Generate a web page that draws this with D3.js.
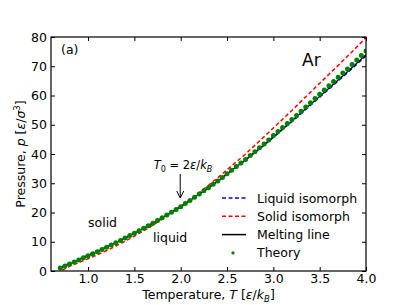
<!DOCTYPE html>
<html>
<head>
<meta charset="utf-8">
<script src="https://cdn.jsdelivr.net/npm/d3@7"></script>
<style>
  body { margin: 0; background: #fff; }
  svg text { font-family: "DejaVu Sans", sans-serif; }
</style>
</head>
<body>
<svg id="chart" width="407" height="305"></svg>
<script>
// melting line, read at T = 0.7 ... 4.0 (step 0.1)
const lineT = [0.7, 0.8, 0.9, 1.0, 1.1, 1.2, 1.3, 1.4, 1.5, 1.6, 1.7, 1.8, 1.9, 2.0, 2.1, 2.2, 2.3,
  2.4, 2.5, 2.6, 2.7, 2.8, 2.9, 3.0, 3.1, 3.2, 3.3, 3.4, 3.5, 3.6, 3.7, 3.8, 3.9, 4.0];
const meltingP = [1.0, 2.4, 3.8, 5.2, 6.6, 8.1, 9.65, 11.25, 12.9, 14.6, 16.35, 18.2, 20.1, 22.0, 24.1,
  26.3, 28.5, 30.8, 33.2, 35.6, 38.0, 40.6, 43.2, 45.9, 48.6, 51.3, 54.1, 56.9, 59.7, 62.5, 65.3,
  68.1, 71.0, 74.0];
const liquidP = [1.2, 2.6, 4.0, 5.4, 6.8, 8.25, 9.75, 11.3, 12.95, 14.6, 16.35, 18.2, 20.1, 22.0, 24.1,
  26.25, 28.45, 30.7, 33.1, 35.5, 37.9, 40.45, 43.05, 45.7, 48.4, 51.05, 53.8, 56.6, 59.4, 62.2, 65.0,
  67.8, 70.65, 73.6];
// solid isomorph starts slightly later
const solidT = [0.72, 0.8, 0.9, 1.0, 1.1, 1.2, 1.3, 1.4, 1.5, 1.6, 1.7, 1.8, 1.9, 2.0, 2.1, 2.2, 2.3,
  2.4, 2.5, 2.6, 2.7, 2.8, 2.9, 3.0, 3.1, 3.2, 3.3, 3.4, 3.5, 3.6, 3.7, 3.8, 3.9, 4.0];
const solidP = [0.3, 1.6, 2.9, 4.2, 5.55, 7.0, 8.55, 10.2, 11.9, 13.75, 15.65, 17.7, 19.85, 22.0, 24.35,
  26.8, 29.3, 31.9, 34.6, 37.3, 40.0, 42.95, 45.9, 48.9, 51.9, 54.9, 58.0, 61.1, 64.2, 67.25, 70.3,
  73.4, 76.55, 79.8];
// theory points, T = 0.70 ... 4.00 (step 0.05)
const theoryT = [0.70, 0.75, 0.80, 0.85, 0.90, 0.95, 1.00, 1.05, 1.10, 1.15, 1.20, 1.25, 1.30, 1.35,
  1.40, 1.45, 1.50, 1.55, 1.60, 1.65, 1.70, 1.75, 1.80, 1.85, 1.90, 1.95, 2.00, 2.05, 2.10, 2.15,
  2.20, 2.25, 2.30, 2.35, 2.40, 2.45, 2.50, 2.55, 2.60, 2.65, 2.70, 2.75, 2.80, 2.85, 2.90, 2.95,
  3.00, 3.05, 3.10, 3.15, 3.20, 3.25, 3.30, 3.35, 3.40, 3.45, 3.50, 3.55, 3.60, 3.65, 3.70, 3.75,
  3.80, 3.85, 3.90, 3.95, 4.00];
const theoryP = [1.0, 1.7, 2.4, 3.1, 3.8, 4.5, 5.2, 5.9, 6.6, 7.35, 8.1, 8.9, 9.65, 10.45, 11.25, 12.1,
  12.9, 13.75, 14.6, 15.5, 16.35, 17.3, 18.2, 19.15, 20.1, 21.05, 22.0, 23.05, 24.1, 25.2, 26.3,
  27.4, 28.5, 29.65, 30.8, 32.0, 33.25, 34.45, 35.7, 36.9, 38.15, 39.45, 40.8, 42.1, 43.45, 44.8,
  46.3, 47.65, 49.05, 50.4, 51.8, 53.2, 54.65, 56.05, 57.5, 58.95, 60.4, 61.85, 63.3, 64.75, 66.2,
  67.65, 69.1, 70.6, 72.1, 73.65, 75.2];

const xTicks = [1.0, 1.5, 2.0, 2.5, 3.0, 3.5, 4.0];
const yTicks = [0, 10, 20, 30, 40, 50, 60, 70, 80];
const legendNames = ["Liquid isomorph", "Solid isomorph", "Melting line", "Theory"];

const margin = {left: 51, right: 41, top: 37, bottom: 34};
const width = 407 - margin.left - margin.right;
const height = 305 - margin.top - margin.bottom;

const svg = d3.select("#chart");
const g = svg.append("g").attr("transform", `translate(${margin.left},${margin.top})`);

const x = d3.scaleLinear().domain([0.6, 4.0]).range([0, width]);
const y = d3.scaleLinear().domain([0, 80]).range([height, 0]);

g.append("clipPath").attr("id", "clip")
  .append("rect").attr("x", 0).attr("y", 0).attr("width", width).attr("height", height);

// axes, ticks pointing inwards on all sides
function styleAxis(sel) {
  sel.select(".domain").remove();
  sel.selectAll(".tick line").attr("stroke", "#000").attr("stroke-width", 1);
  sel.selectAll(".tick text").attr("fill", "#000").style("font-size", "12.5px");
}
g.append("g").attr("transform", `translate(0,${height})`)
  .call(d3.axisBottom(x).tickValues(xTicks).tickFormat(d3.format(".1f")).tickSize(-4).tickPadding(3.5))
  .call(styleAxis);
g.append("g")
  .call(d3.axisTop(x).tickValues(xTicks).tickFormat("").tickSize(-4))
  .call(styleAxis);
g.append("g")
  .call(d3.axisLeft(y).tickValues(yTicks).tickSize(-4).tickPadding(4))
  .call(styleAxis);
g.append("g").attr("transform", `translate(${width},0)`)
  .call(d3.axisRight(y).tickValues(yTicks).tickFormat("").tickSize(-4))
  .call(styleAxis);

const line = d3.line().x(d => x(d[0])).y(d => y(d[1])).curve(d3.curveMonotoneX);
const plot = g.append("g").attr("clip-path", "url(#clip)");

plot.append("path").datum(d3.zip(lineT, liquidP)).attr("d", line)
  .attr("fill", "none").attr("stroke", "#0000ff").attr("stroke-width", 1.5).attr("stroke-dasharray", "4,2.5");
plot.append("path").datum(d3.zip(solidT, solidP)).attr("d", line)
  .attr("fill", "none").attr("stroke", "#ff0000").attr("stroke-width", 1.5).attr("stroke-dasharray", "4,2.5");
plot.append("path").datum(d3.zip(lineT, meltingP)).attr("d", line)
  .attr("fill", "none").attr("stroke", "#000").attr("stroke-width", 1.3);
plot.selectAll("circle.theory").data(d3.zip(theoryT, theoryP)).enter()
  .append("circle").attr("class", "theory")
  .attr("cx", d => x(d[0])).attr("cy", d => y(d[1])).attr("r", 2.5)
  .attr("fill", "#008000");

// frame
g.append("rect").attr("width", width).attr("height", height)
  .attr("fill", "none").attr("stroke", "#000").attr("stroke-width", 1.2);

// labels
g.append("text").attr("x", 10).attr("y", 17).style("font-size", "12.5px").text("(a)");
g.append("text").attr("x", 251).attr("y", 29).style("font-size", "17px").text("Ar");
g.append("text").attr("x", 37).attr("y", 190).style("font-size", "12.5px").text("solid");
g.append("text").attr("x", 102).attr("y", 205).style("font-size", "12.5px").text("liquid");

// T0 annotation
const t0 = g.append("text").attr("x", x(2.0) - 27).attr("y", 132).style("font-size", "11.5px");
t0.append("tspan").style("font-style", "italic").text("T");
t0.append("tspan").attr("dy", 3).style("font-size", "8px").text("0");
t0.append("tspan").attr("dy", -3).text(" = 2");
t0.append("tspan").style("font-style", "italic").text("ε");
t0.append("tspan").text("/");
t0.append("tspan").style("font-style", "italic").text("k");
t0.append("tspan").attr("dy", 3).style("font-size", "8px").style("font-style", "italic").text("B");
g.append("line").attr("x1", x(2.0) - 0.5).attr("x2", x(2.0) - 0.5).attr("y1", 137).attr("y2", 160)
  .attr("stroke", "#000").attr("stroke-width", 1);
g.append("path")
  .attr("d", `M${x(2.0) - 4},${154} L${x(2.0) - 0.5},${161} L${x(2.0) + 3},${154}`)
  .attr("fill", "none").attr("stroke", "#000").attr("stroke-width", 1);

// legend
const legend = g.append("g").attr("transform", "translate(171,161)");
legendNames.forEach((name, i) => {
  const row = legend.append("g").attr("transform", `translate(0,${i * 18.3})`);
  if (i < 3) {
    row.append("line").attr("x1", 0).attr("x2", 24).attr("y1", 0).attr("y2", 0)
      .attr("stroke", ["#0000ff", "#ff0000", "#000"][i]).attr("stroke-width", 1.5)
      .attr("stroke-dasharray", i < 2 ? "4,2.5" : null);
  } else {
    row.append("circle").attr("cx", 11).attr("cy", 0).attr("r", 1.6).attr("fill", "#008000");
  }
  row.append("text").attr("x", 35).attr("y", 4.5).style("font-size", "12.5px").text(name);
});

// axis titles
const xl = svg.append("text").attr("x", margin.left + width / 2).attr("y", 299)
  .attr("text-anchor", "middle").style("font-size", "12.5px");
xl.append("tspan").text("Temperature, ");
xl.append("tspan").style("font-style", "italic").text("T");
xl.append("tspan").text(" [");
xl.append("tspan").style("font-style", "italic").text("ε");
xl.append("tspan").text("/");
xl.append("tspan").style("font-style", "italic").text("k");
xl.append("tspan").attr("dy", 3).style("font-size", "8.5px").style("font-style", "italic").text("B");
xl.append("tspan").attr("dy", -3).text("]");

const yl = svg.append("text")
  .attr("transform", `translate(25,${margin.top + height / 2}) rotate(-90)`)
  .attr("text-anchor", "middle").style("font-size", "12.5px");
yl.append("tspan").text("Pressure, ");
yl.append("tspan").style("font-style", "italic").text("p");
yl.append("tspan").text(" [");
yl.append("tspan").style("font-style", "italic").text("ε");
yl.append("tspan").text("/");
yl.append("tspan").style("font-style", "italic").text("σ");
yl.append("tspan").attr("dy", -5).style("font-size", "8.5px").text("3");
yl.append("tspan").attr("dy", 5).text("]");
</script>
</body>
</html>
